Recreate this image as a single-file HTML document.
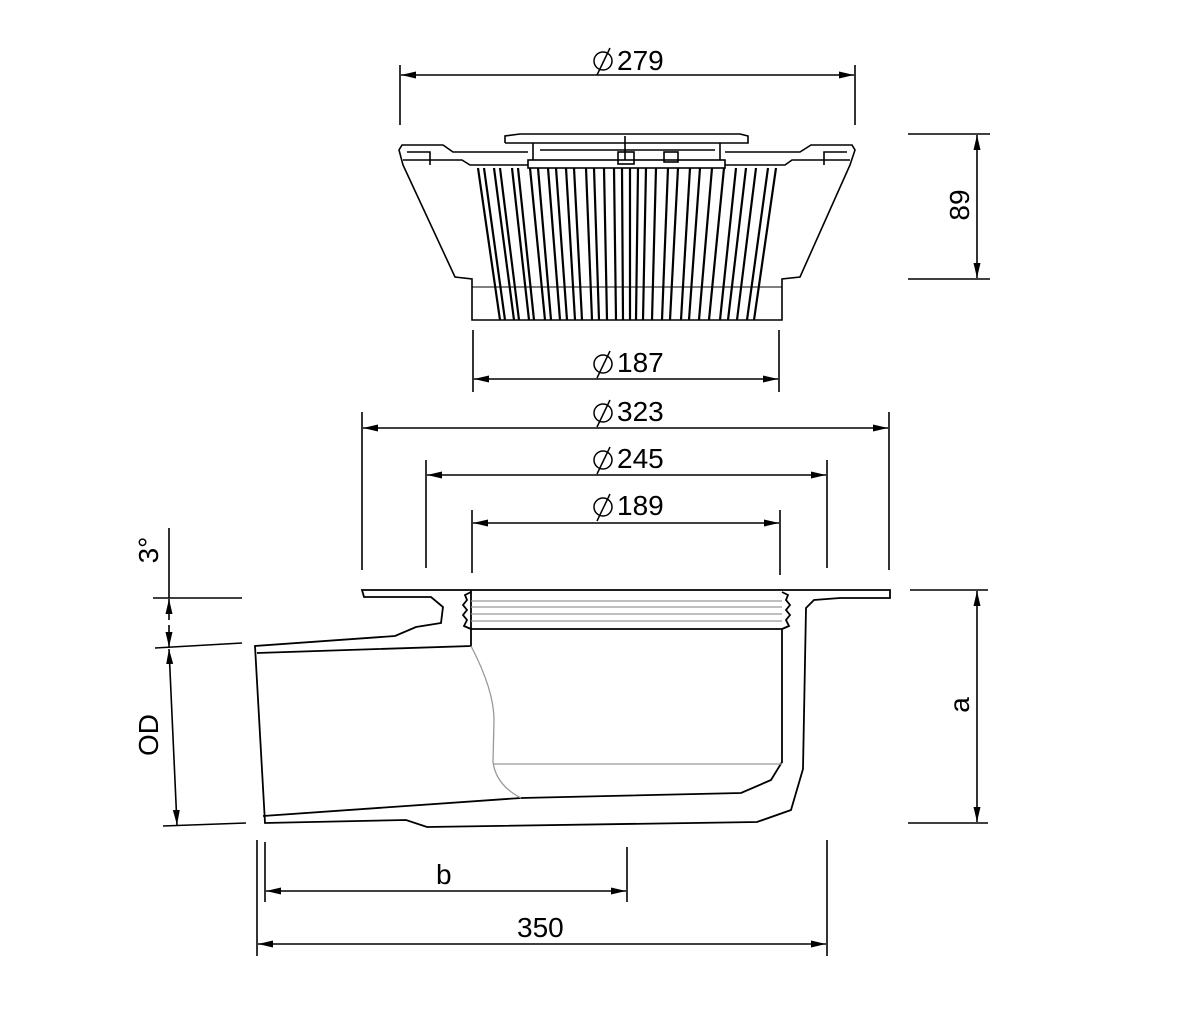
<!DOCTYPE html>
<html><head><meta charset="utf-8"><style>
html,body{margin:0;padding:0;background:#fff;}
svg{display:block;}
text{font-family:"Liberation Sans",Arial,sans-serif;font-size:28px;fill:#000;}
</style></head><body>
<svg width="1200" height="1021" viewBox="0 0 1200 1021" xmlns="http://www.w3.org/2000/svg">
<defs>
<marker id="ae" markerWidth="16" markerHeight="10" refX="15" refY="5" orient="auto" markerUnits="userSpaceOnUse"><path d="M0,1.5 L15,5 L0,8.5 Z" fill="#000"/></marker>
<marker id="as" markerWidth="16" markerHeight="10" refX="1" refY="5" orient="auto" markerUnits="userSpaceOnUse"><path d="M16,1.5 L1,5 L16,8.5 Z" fill="#000"/></marker>
</defs>
<g stroke="#000" stroke-width="1.6" fill="none">
<line x1="400" y1="65" x2="400" y2="125"/><line x1="855" y1="65" x2="855" y2="125"/>
<line x1="401" y1="75" x2="854" y2="75" marker-start="url(#as)" marker-end="url(#ae)"/>
<line x1="908" y1="134" x2="990" y2="134"/><line x1="908" y1="279" x2="990" y2="279"/>
<line x1="977" y1="135" x2="977" y2="278" marker-start="url(#as)" marker-end="url(#ae)"/>
<line x1="473" y1="330" x2="473" y2="392"/><line x1="779" y1="330" x2="779" y2="392"/>
<line x1="474" y1="379" x2="778" y2="379" marker-start="url(#as)" marker-end="url(#ae)"/>
<line x1="362" y1="412" x2="362" y2="570"/><line x1="889" y1="412" x2="889" y2="570"/>
<line x1="363" y1="428" x2="888" y2="428" marker-start="url(#as)" marker-end="url(#ae)"/>
<line x1="426" y1="460" x2="426" y2="568"/><line x1="827" y1="460" x2="827" y2="568"/>
<line x1="427" y1="475" x2="826" y2="475" marker-start="url(#as)" marker-end="url(#ae)"/>
<line x1="472" y1="510" x2="472" y2="573"/><line x1="780" y1="510" x2="780" y2="575"/>
<line x1="473" y1="523" x2="779" y2="523" marker-start="url(#as)" marker-end="url(#ae)"/>
<line x1="910" y1="590" x2="988" y2="590"/><line x1="908" y1="823" x2="988" y2="823"/>
<line x1="977" y1="591" x2="977" y2="822" marker-start="url(#as)" marker-end="url(#ae)"/>
<line x1="265" y1="842" x2="265" y2="902"/><line x1="627" y1="847" x2="627" y2="902"/>
<line x1="266" y1="891" x2="626" y2="891" marker-start="url(#as)" marker-end="url(#ae)"/>
<line x1="257" y1="840" x2="257" y2="956"/><line x1="827" y1="840" x2="827" y2="956"/>
<line x1="258" y1="944" x2="826" y2="944" marker-start="url(#as)" marker-end="url(#ae)"/>
<line x1="169" y1="528" x2="169" y2="598"/>
<line x1="153" y1="598" x2="242" y2="598"/>
<line x1="155" y1="648" x2="242" y2="643"/>
<line x1="163" y1="826" x2="246" y2="823"/>
<line x1="169" y1="620" x2="169" y2="599" marker-end="url(#ae)"/>
<line x1="169" y1="625" x2="169" y2="647" marker-end="url(#ae)"/>
<line x1="169" y1="649" x2="177" y2="825" marker-start="url(#as)" marker-end="url(#ae)"/>

<!-- grate outline -->
<path d="M528,152 L453,152 L443,145 L402,145 L399,150 L403,165 L455,277 L472,279 L472,320 L782,320 L782,279 L800,277 L850,165 L855,150 L852,145 L811,145 L800,152 L725,152"/>
<path d="M403,160 L462,160 L470,165 L528,165 M725,165 L785,165 L792,160 L850,160"/>
<path d="M407,152 L430,152 L430,165 M847,152 L824,152 L824,165"/>
<path d="M505,143 L505,136 L520,134 L740,134 L748,136 L748,143 L505,143"/>
<rect x="528" y="160" width="197" height="8"/>
<line x1="533" y1="143" x2="533" y2="160"/><line x1="720" y1="143" x2="720" y2="160"/>
<line x1="625" y1="136" x2="625" y2="160"/>
<line x1="540" y1="150" x2="715" y2="150"/>
<rect x="618" y="152" width="16" height="12"/><rect x="664" y="152" width="14" height="10"/>
<line x1="472" y1="287" x2="782" y2="287" stroke-width="1"/>
</g>
<g stroke="#000" stroke-width="2.2" fill="none">
<line x1="478" y1="168" x2="500" y2="320"/><line x1="484" y1="168" x2="505" y2="320"/>
<line x1="494" y1="168" x2="514" y2="320"/><line x1="500" y1="168" x2="519" y2="320"/>
<line x1="512" y1="168" x2="529" y2="320"/><line x1="518" y1="168" x2="534" y2="320"/>
<line x1="530" y1="168" x2="545" y2="320"/><line x1="538" y1="168" x2="551" y2="320"/>
<line x1="548" y1="168" x2="560" y2="320"/><line x1="556" y1="168" x2="567" y2="320"/>
<line x1="566" y1="168" x2="575" y2="320"/><line x1="574" y1="168" x2="582" y2="320"/>
<line x1="586" y1="168" x2="592" y2="320"/><line x1="594" y1="168" x2="599" y2="320"/>
<line x1="604" y1="168" x2="607" y2="320"/><line x1="614" y1="168" x2="616" y2="320"/>
<line x1="622" y1="168" x2="623" y2="320"/><line x1="630" y1="168" x2="630" y2="320"/>
<line x1="638" y1="168" x2="636" y2="320"/><line x1="646" y1="168" x2="643" y2="320"/>
<line x1="656" y1="168" x2="652" y2="320"/><line x1="668" y1="168" x2="662" y2="320"/>
<line x1="678" y1="168" x2="670" y2="320"/><line x1="690" y1="168" x2="681" y2="320"/>
<line x1="700" y1="168" x2="689" y2="320"/><line x1="712" y1="168" x2="699" y2="320"/>
<line x1="724" y1="168" x2="709" y2="320"/><line x1="736" y1="168" x2="720" y2="320"/>
<line x1="746" y1="168" x2="728" y2="320"/><line x1="756" y1="168" x2="737" y2="320"/>
<line x1="768" y1="168" x2="747" y2="320"/><line x1="776" y1="168" x2="754" y2="320"/>
</g>

<!-- body -->
<g stroke="#000" stroke-width="1.8" fill="none">
<path d="M362,590 L890,590 L890,598 L840,598 L814,600 L806,608 L803,769 L791,810 L757,822 L427,827 L406,820 L265,823 L255,646 L395,636 L416,627 L441,623 L443,607 L431,597 L364,597 Z"/>
<path d="M257,653 L471,646 L471,590"/>
<path d="M263,816 L521,798 L741,793 L771,780 L782,762 L782,629"/>
<line x1="471" y1="629" x2="782" y2="629"/>
<path d="M471,592 L465,595 L467,600 L463,605 L467,610 L463,615 L467,620 L464,626 L471,629"/>
<path d="M782,592 L788,595 L786,600 L790,605 L786,610 L790,615 L786,620 L789,626 L782,629"/>
</g>
<g stroke="#999" stroke-width="1.3" fill="none">
<line x1="471" y1="601" x2="782" y2="601"/><line x1="471" y1="607" x2="782" y2="607"/>
<line x1="471" y1="614" x2="782" y2="614"/><line x1="471" y1="621" x2="782" y2="621"/>
<path d="M471,646 Q494,690 494,720 L493,762 Q496,785 521,798"/>
<line x1="493" y1="764" x2="782" y2="764"/>
</g>

<g stroke="#000" stroke-width="1.5" fill="none">
<circle cx="603" cy="61" r="9"/><line x1="597" y1="75" x2="610" y2="48"/>
<circle cx="603" cy="364" r="9"/><line x1="597" y1="378" x2="610" y2="351"/>
<circle cx="603" cy="413" r="9"/><line x1="597" y1="427" x2="610" y2="400"/>
<circle cx="603" cy="460" r="9"/><line x1="597" y1="474" x2="610" y2="447"/>
<circle cx="603" cy="507" r="9"/><line x1="597" y1="521" x2="610" y2="494"/>
</g>
<text x="617" y="70">279</text>
<text x="617" y="372">187</text>
<text x="617" y="421">323</text>
<text x="617" y="468">245</text>
<text x="617" y="515">189</text>
<text x="436" y="884">b</text>
<text x="517" y="937">350</text>
<text transform="translate(969,205) rotate(-90)" text-anchor="middle">89</text>
<text transform="translate(969,705) rotate(-90)" text-anchor="middle">a</text>
<text transform="translate(158,735) rotate(-90)" text-anchor="middle">OD</text>
<text transform="translate(158,550) rotate(-90)" text-anchor="middle">3°</text>
</svg>
</body></html>
